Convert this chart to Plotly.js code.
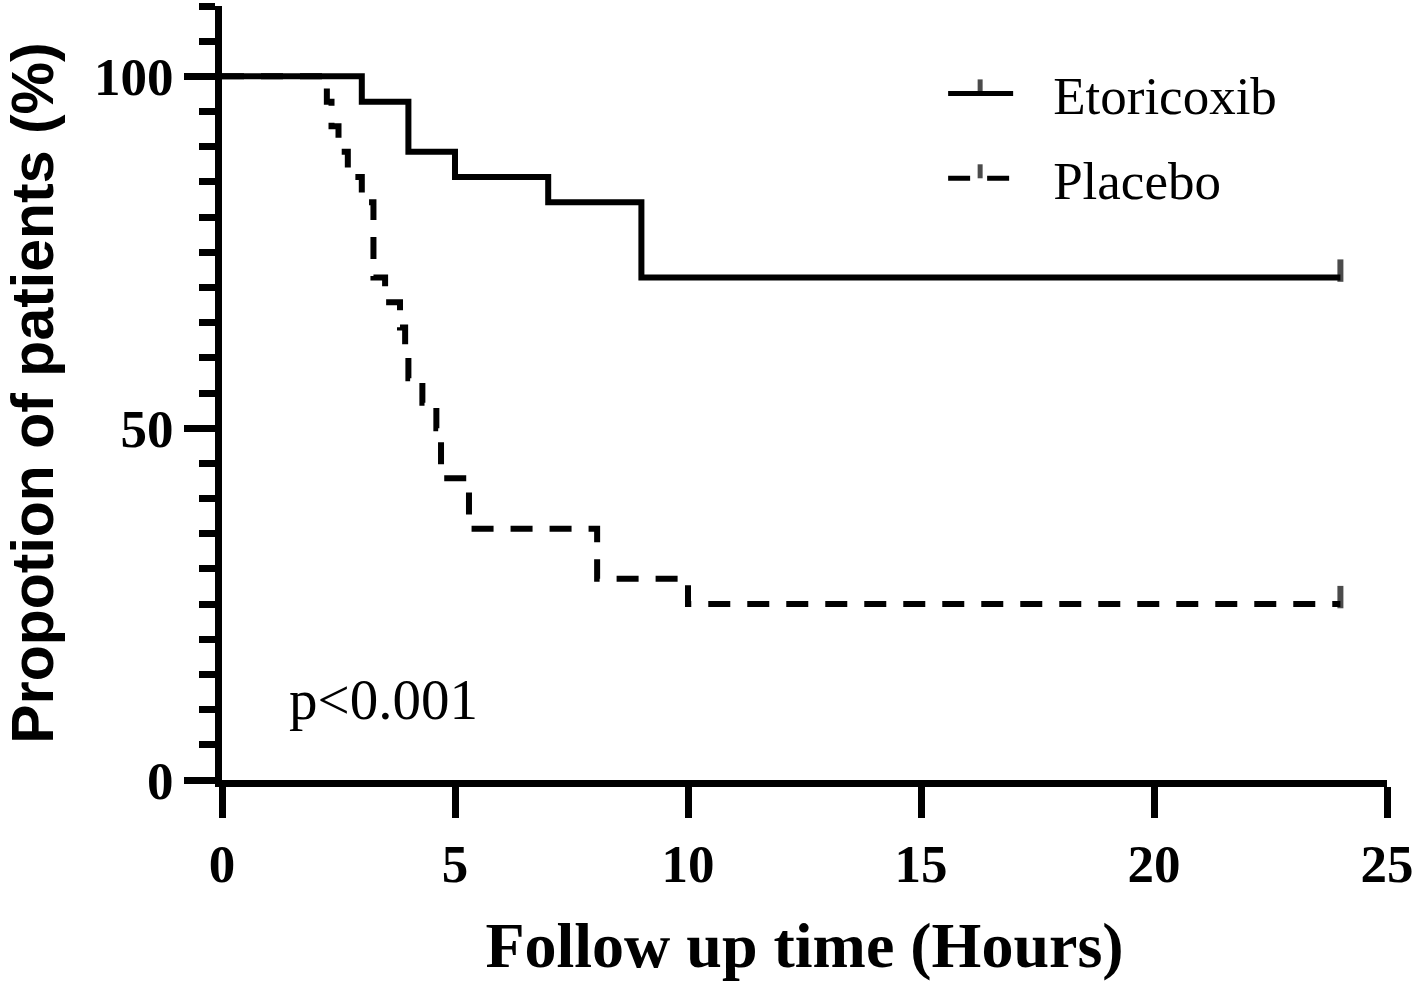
<!DOCTYPE html>
<html>
<head>
<meta charset="utf-8">
<script src="https://cdn.plot.ly/plotly-3.0.1.min.js"></script>
<style>
  html, body { margin: 0; padding: 0; background: #fff; }
  #km { width: 1416px; height: 990px; }
</style>
</head>
<body>
<div id="km"></div>
<script>
// Kaplan-Meier style step data (hours, % of patients)
var etoTime = [0, 3, 4, 5, 7, 9, 24];
var etoSurv = [100, 96.4, 89.3, 85.7, 82.1, 71.4, 71.4];

var plaTime = [0, 2.25, 2.35, 2.5, 2.7, 3.0, 3.25, 3.5, 3.82, 3.93, 4.0, 4.3, 4.6, 4.7, 5.3, 8.05, 10.0, 24];
var plaSurv = [100, 96.4, 92.9, 89.3, 85.7, 82.1, 71.4, 67.9, 64.3, 60.7, 57.1, 53.6, 50.0, 42.9, 35.7, 28.6, 25.0, 25.0];

var seriesNames = ['Etoricoxib', 'Placebo'];
var pText = 'p<0.001';

// censor tick only on the last point
function censorSizes(arr) {
    return arr.map(function (v, i) { return i === arr.length - 1 ? 16 : 0; });
}

var KM = document.getElementById('km');

var trace1 = {
    x: etoTime,
    y: etoSurv,
    type: 'scatter',
    mode: 'lines+markers',
    name: seriesNames[0],
    legendgroup: 'a',
    line: { shape: 'hv', color: '#000', width: 6 },
    marker: {
        symbol: 'line-ns',
        size: censorSizes(etoTime),
        color: '#000',
        line: { color: '#000', width: 6 }
    }
};

var trace2 = {
    x: plaTime,
    y: plaSurv,
    type: 'scatter',
    mode: 'lines+markers',
    name: seriesNames[1],
    legendgroup: 'b',
    line: { shape: 'hv', color: '#000', width: 6, dash: '22px,17px' },
    marker: {
        symbol: 'line-ns',
        size: censorSizes(plaTime),
        color: '#000',
        line: { color: '#000', width: 6 }
    }
};

var tickFont = { family: 'Liberation Serif', size: 53, color: '#000', weight: 'bold' };

var layout = {
    width: 1416,
    height: 990,
    margin: { l: 222, r: 29, t: 6, b: 210 },
    paper_bgcolor: '#fff',
    plot_bgcolor: '#fff',
    showlegend: true,
    legend: {
        x: 0.619, y: 0.94, xanchor: 'left', yanchor: 'top',
        font: { family: 'Liberation Serif', size: 53, color: '#000' },
        tracegroupgap: 13,
        itemwidth: 100,
        itemsizing: 'constant',
        bgcolor: 'rgba(0,0,0,0)'
    },
    xaxis: {
        range: [0, 25],
        tickvals: [0, 5, 10, 15, 20, 25],
        ticks: 'outside', ticklen: 31, tickwidth: 7, tickcolor: '#000',
        showline: true, linewidth: 7, linecolor: '#000',
        showgrid: false, zeroline: false, automargin: false,
        tickfont: tickFont,
        title: {
            text: 'Follow up time (Hours)',
            font: { family: 'Liberation Serif', size: 64, color: '#000', weight: 'bold' },
            standoff: 33
        }
    },
    yaxis: {
        range: [0, 110],
        tickvals: [0, 50, 100],
        ticks: 'outside', ticklen: 31, tickwidth: 7, tickcolor: '#000',
        minor: { dtick: 5, ticklen: 16, tickwidth: 7, tickcolor: '#000', ticks: 'outside' },
        showline: true, linewidth: 7, linecolor: '#000',
        showgrid: false, zeroline: false, automargin: false,
        tickfont: tickFont,
        title: {
            text: 'Propotion of patients (%)',
            font: { family: 'Liberation Sans', size: 59, color: '#000', weight: 'bold' },
            standoff: 43
        }
    },
    annotations: [{
        text: pText,
        x: 1.4, y: 11.5, xref: 'x', yref: 'y',
        xanchor: 'left', yanchor: 'middle',
        showarrow: false,
        font: { family: 'Liberation Serif', size: 57, color: '#000' }
    }]
};

Plotly.newPlot(KM, [trace1, trace2], layout, { displayModeBar: false, responsive: false }).then(function () {
    // legend samples: 65px line, text 40px further right, censor tick in the middle pointing up
    KM.querySelectorAll('.legend .legendlines path').forEach(function (p) {
        p.setAttribute('d', 'M5,0h65');
    });
    KM.querySelectorAll('.legend .legendpoints path').forEach(function (p) {
        p.setAttribute('transform', 'translate(37,-7)');
        p.setAttribute('d', 'M0,7V-7');
        p.style.setProperty('stroke', '#000', 'important');
        p.style.setProperty('stroke-width', '5px', 'important');
        p.style.setProperty('stroke-opacity', '1', 'important');
    });
    // censor ticks sit above the line, like the original
    KM.querySelectorAll('.scatterlayer .points path').forEach(function (p) {
        var t = p.getAttribute('transform') || '';
        p.setAttribute('transform', t + ' translate(0,-7)');
    });
});
</script>
</body>
</html>
